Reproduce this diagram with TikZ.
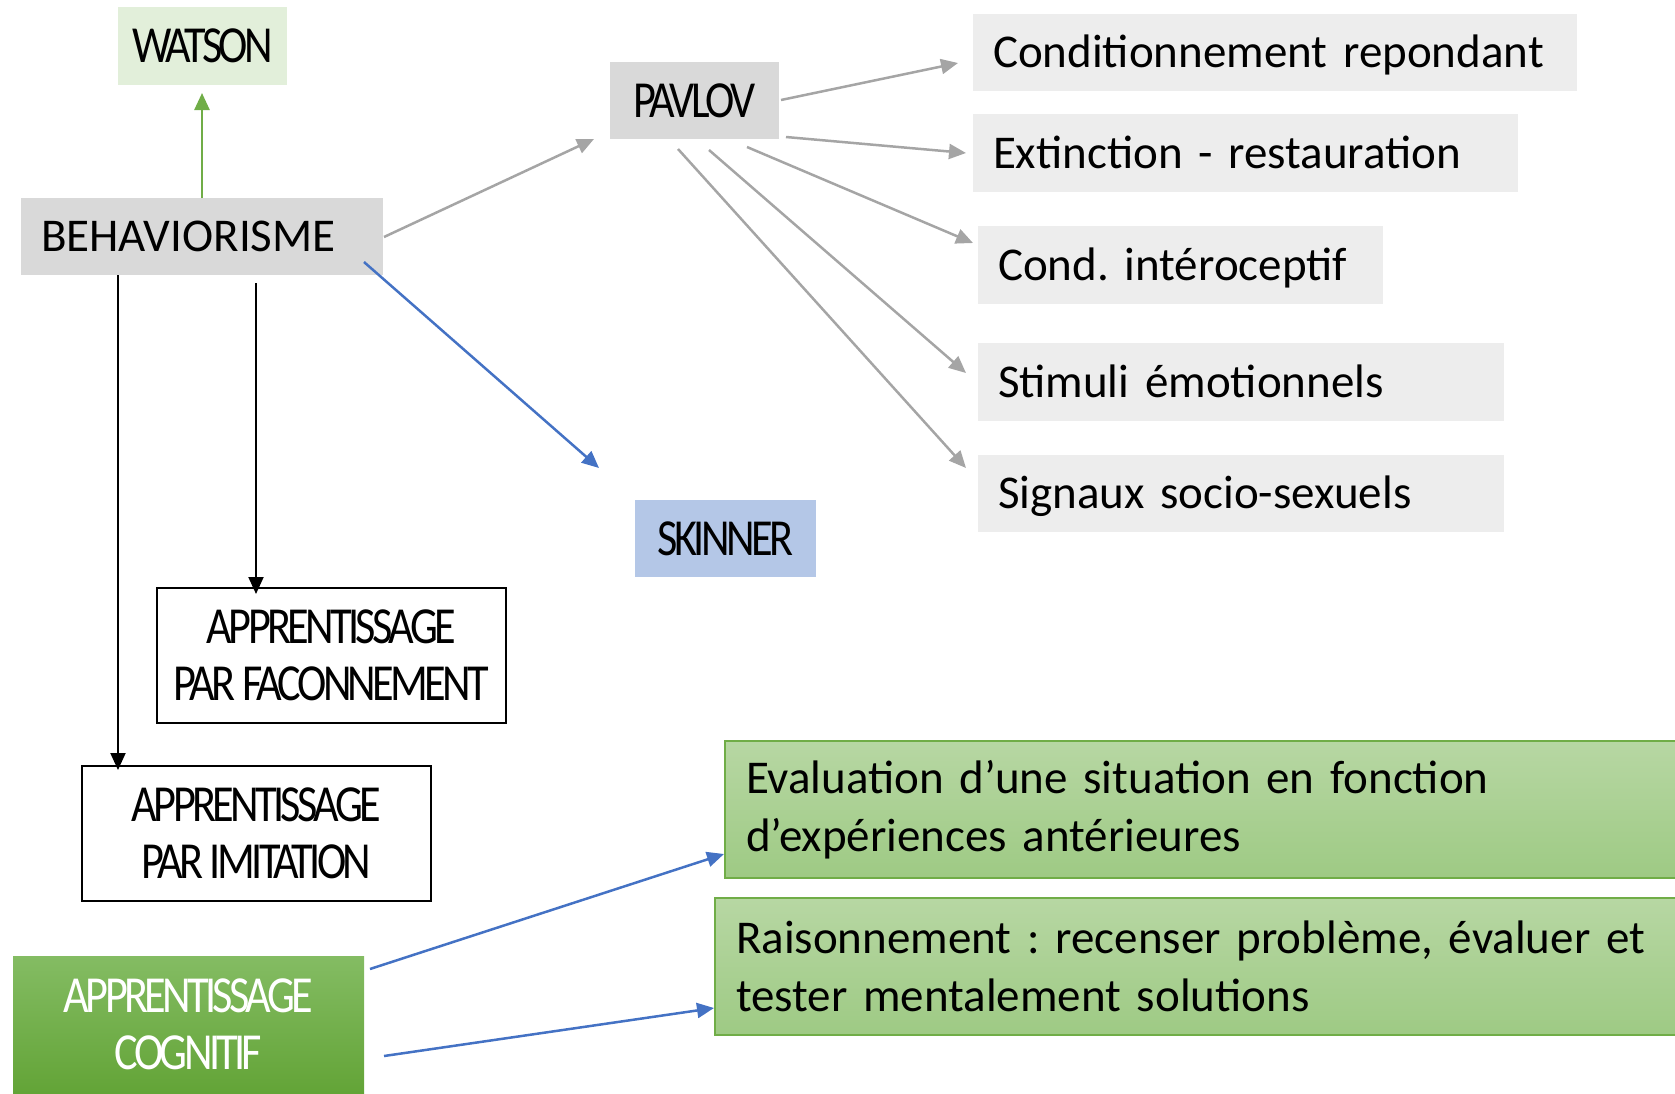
\documentclass[tikz,border=0pt]{standalone}
\usepackage{fontspec}
\setmainfont{Carlito}
\newfontfamily\condfont[FakeStretch=0.85,LetterSpace=-7]{Carlito}
\usetikzlibrary{arrows.meta,shadings,calc}
\definecolor{gbox}{HTML}{D9D9D9}
\definecolor{lbox}{HTML}{EDEDED}
\definecolor{wfill}{HTML}{E2EFDA}
\definecolor{sfill}{HTML}{B4C7E7}
\definecolor{gtop}{HTML}{B7D7A3}
\definecolor{gbot}{HTML}{9ECA84}
\definecolor{gedge}{HTML}{70AD47}
\definecolor{ctop}{HTML}{84BC63}
\definecolor{cbot}{HTML}{63A437}
\definecolor{agrey}{HTML}{A5A5A5}
\definecolor{ablue}{HTML}{4472C4}
\definecolor{agreen}{HTML}{70AD47}
\frenchspacing
\begin{document}
\begin{tikzpicture}[x=1pt,y=-1pt,
  every node/.style={inner sep=0pt, outer sep=0pt},
  ttl/.style={font=\condfont\fontsize{52}{57}\selectfont, align=center},
  one/.style={text height=33.5pt, text depth=0pt},
  lbl/.style={fill=lbox, font=\fontsize{47}{56}\selectfont, align=left, inner xsep=20pt, text height=30pt, text depth=0pt},
  gbx/.style={top color=gtop, bottom color=gbot, draw=gedge, line width=1.5pt, font=\fontsize{47}{58}\selectfont, align=left, inner xsep=21pt},
  frame/.style={draw=black, line width=2pt, fill=white},
  tipA/.style={-{Triangle[length=17pt,width=15pt]}},
  greyarrow/.style={tipA, draw=agrey, fill=agrey, line width=2.5pt},
  bluearrow/.style={tipA, draw=ablue, fill=ablue, line width=2.5pt},
  blackarrow/.style={tipA, draw=black, fill=black, line width=2pt},
  greenarrow/.style={tipA, draw=agreen, fill=agreen, line width=2.5pt}
]
\useasboundingbox (0,0) rectangle (1675,1093);

% title boxes
\node[ttl, one, fill=wfill, minimum width=169pt, minimum height=78pt] (watson) at (202.5,46) {WATSON};
\node[ttl, one, fill=gbox, minimum width=169pt, minimum height=77pt] (pavlov) at (694.5,100.5) {PAVLOV};
\node[fill=gbox, font=\fontsize{47}{56}\selectfont, align=left, inner xsep=20pt, text width=322pt, text height=30pt, text depth=0pt, minimum height=77pt] (beh) at (202,236.5) {BEHAVIORISME};
\node[ttl, one, fill=sfill, minimum width=181pt, minimum height=77pt] (skinner) at (725.5,538.5) {SKINNER};
\node[ttl, frame, minimum width=349pt, minimum height=135pt] (facon) at (331.5,655.5) {APPRENTISSAGE\\PAR FACONNEMENT};
\node[ttl, frame, minimum width=349pt, minimum height=135pt] (imit) at (256.5,833.5) {APPRENTISSAGE\\PAR IMITATION};
\node[ttl, top color=ctop, bottom color=cbot, text=white, minimum width=351pt, minimum height=137pt] (cogn) at (188.5,1024.5) {APPRENTISSAGE\\COGNITIF};

% Pavlov labels
\node[lbl, text width=564pt, minimum height=77pt] (rep) at (1275,52.5) {Conditionnement repondant};
\node[lbl, text width=505pt, minimum height=78pt] (ext) at (1245.5,153) {Extinction - restauration};
\node[lbl, text width=365pt, minimum height=78pt] (int) at (1180.5,265) {Cond. intéroceptif};
\node[lbl, text width=486pt, minimum height=78pt] (emo) at (1241,382) {Stimuli émotionnels};
\node[lbl, text width=486pt, minimum height=77pt] (sig) at (1241,493.5) {Signaux socio-sexuels};

% cognitive labels
\node[gbx, text width=913pt, minimum height=137pt] (eval) at (1202.5,809.5) {Evaluation d’une situation en fonction\\d’expériences antérieures};
\node[gbx, text width=923pt, minimum height=137pt] (rais) at (1197.5,966.5) {Raisonnement : recenser problème, évaluer et\\tester mentalement solutions};

% connector ends
\coordinate (wIn) at (202,93);
\coordinate (bP) at (384,237);
\coordinate (pIn) at (594,139);
\coordinate (bS) at (364,262);
\coordinate (sIn) at (599,468);
\coordinate (bF) at (256,283);
\coordinate (fIn) at (256,594);
\coordinate (bI) at (118,275);
\coordinate (iIn) at (118,770);
\coordinate (p1) at (781,100);
\coordinate (p1In) at (958,63);
\coordinate (p2) at (786,137);
\coordinate (p2In) at (966,153);
\coordinate (p3) at (747,147);
\coordinate (p3In) at (973,243);
\coordinate (p4) at (709,150);
\coordinate (p4In) at (966,373);
\coordinate (p5) at (678,149);
\coordinate (p5In) at (966,468);
\coordinate (c1) at (370,969);
\coordinate (c1In) at (724,854);
\coordinate (c2) at (384,1056);
\coordinate (c2In) at (714,1008);

\draw[greenarrow] (beh.north) -- (wIn);
\draw[greyarrow] (bP) -- (pIn);
\draw[bluearrow] (bS) -- (sIn);
\draw[blackarrow] (bF) -- (fIn);
\draw[blackarrow] (bI) -- (iIn);
\draw[greyarrow] (p1) -- (p1In);
\draw[greyarrow] (p2) -- (p2In);
\draw[greyarrow] (p3) -- (p3In);
\draw[greyarrow] (p4) -- (p4In);
\draw[greyarrow] (p5) -- (p5In);
\draw[bluearrow] (c1) -- (c1In);
\draw[bluearrow] (c2) -- (c2In);
\end{tikzpicture}
\end{document}
